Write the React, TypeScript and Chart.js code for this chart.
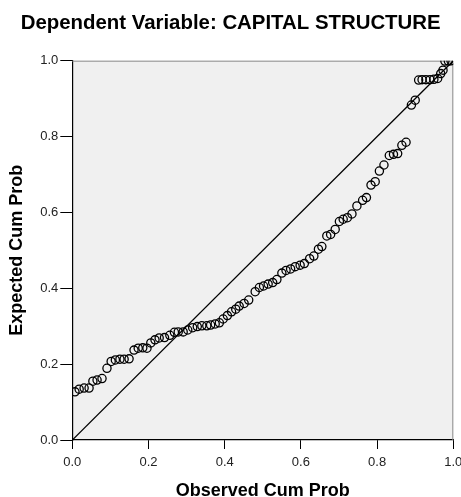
import React, { useEffect, useRef } from "react";
import { Chart, registerables } from "chart.js";

Chart.register(...registerables);

const titleText = "Dependent Variable: CAPITAL STRUCTURE";
const xAxisTitle = "Observed Cum Prob";
const yAxisTitle = "Expected Cum Prob";

const observedCumProb = [
  0.007, 0.018, 0.031, 0.044, 0.054, 0.065, 0.078, 0.091, 0.102, 0.113,
  0.125, 0.136, 0.149, 0.162, 0.173, 0.185, 0.196, 0.206, 0.217, 0.228,
  0.242, 0.256, 0.268, 0.278, 0.291, 0.303, 0.316, 0.328, 0.34, 0.353,
  0.363, 0.375, 0.386, 0.396, 0.407, 0.418, 0.429, 0.438, 0.451, 0.463,
  0.48, 0.491, 0.502, 0.514, 0.526, 0.537, 0.55, 0.561, 0.573, 0.585,
  0.598, 0.609, 0.623, 0.634, 0.646, 0.655, 0.668, 0.678, 0.69, 0.701,
  0.711, 0.722, 0.734, 0.747, 0.762, 0.772, 0.784, 0.795, 0.806, 0.818,
  0.832, 0.843, 0.854, 0.865, 0.876, 0.89, 0.9, 0.909, 0.918, 0.928,
  0.939, 0.949, 0.959, 0.967, 0.973, 0.978, 0.987, 0.994,
];

const expectedCumProb = [
  0.127, 0.134, 0.137, 0.137, 0.155, 0.158, 0.162, 0.189, 0.207, 0.211,
  0.213, 0.213, 0.214, 0.237, 0.242, 0.243, 0.242, 0.256, 0.264, 0.269,
  0.27, 0.276, 0.284, 0.285, 0.285, 0.29, 0.296, 0.299, 0.301, 0.301,
  0.303, 0.306, 0.309, 0.319, 0.328, 0.338, 0.345, 0.353, 0.36, 0.369,
  0.391, 0.402, 0.406, 0.411, 0.415, 0.423, 0.44, 0.447, 0.451, 0.457,
  0.461, 0.465, 0.478, 0.485, 0.503, 0.51, 0.538, 0.542, 0.555, 0.576,
  0.582, 0.586, 0.596, 0.617, 0.632, 0.639, 0.672, 0.681, 0.709, 0.725,
  0.75, 0.753, 0.755, 0.777, 0.785, 0.883, 0.896, 0.949, 0.95, 0.95,
  0.95, 0.951, 0.953, 0.966, 0.975, 0.999, 0.999, 0.9995,
];

const refLineX = [0, 1];
const refLineY = [0, 1];

const axisMin = 0;
const axisMax = 1;
const axisStep = 0.2;

const FONT = "'Liberation Sans', Arial, Helvetica, sans-serif";

const plotBg = {
  id: "plotBg",
  beforeDraw(chart: any) {
    const { ctx, chartArea } = chart;
    if (!chartArea) return;
    ctx.save();
    ctx.fillStyle = "#f0f0f0";
    ctx.fillRect(chartArea.left, chartArea.top, chartArea.right - chartArea.left, chartArea.bottom - chartArea.top);
    ctx.restore();
  },
  beforeDatasetsDraw(chart: any) {
    const { ctx, chartArea } = chart;
    ctx.save();
    ctx.strokeStyle = "#8a8a8a";
    ctx.lineWidth = 1;
    ctx.beginPath();
    ctx.moveTo(chartArea.left, chartArea.top + 0.5);
    ctx.lineTo(chartArea.right - 0.5, chartArea.top + 0.5);
    ctx.lineTo(chartArea.right - 0.5, chartArea.bottom);
    ctx.stroke();
    ctx.restore();
  },
};

export default function App() {
  const ref = useRef<HTMLCanvasElement | null>(null);

  useEffect(() => {
    if (!ref.current) return;
    const points = observedCumProb.map((x, i) => ({ x, y: expectedCumProb[i] }));
    const line = refLineX.map((x, i) => ({ x, y: refLineY[i] }));
    const tickCb = (v: any) => Number(v).toFixed(1);
    const chart = new Chart(ref.current, {
      type: "scatter",
      data: {
        datasets: [
          {
            type: "line",
            data: line,
            borderColor: "#000",
            borderWidth: 1.3,
            pointRadius: 0,
            fill: false,
            clip: 0,
          } as any,
          {
            type: "scatter",
            data: points,
            pointStyle: "circle",
            pointRadius: 4.1,
            borderWidth: 1.3,
            borderColor: "#000",
            backgroundColor: "rgba(0,0,0,0)",
            clip: 0,
          } as any,
        ],
      },
      options: {
        animation: false,
        responsive: false,
        devicePixelRatio: 1,
        layout: { padding: { left: 8, right: 16.7, top: 0, bottom: 0 } },
        plugins: {
          legend: { display: false },
          tooltip: { enabled: false },
          title: {
            display: true,
            text: titleText,
            color: "#000",
            font: { family: FONT, size: 20.4, weight: "bold", lineHeight: 1.2 },
            padding: { top: 11.5, bottom: 24.7 },
          },
        },
        scales: {
          x: {
            type: "linear",
            min: axisMin,
            max: axisMax,
            afterFit: (s: any) => {
              s.height = 60;
            },
            ticks: {
              stepSize: axisStep,
              callback: tickCb,
              color: "#222",
              font: { family: FONT, size: 13 },
              padding: 6,
              maxRotation: 0,
            },
            grid: { drawOnChartArea: false, drawTicks: true, tickLength: 9, color: "#000", tickWidth: 1 },
            border: { display: true, color: "#000", width: 1.2 },
            title: {
              display: true,
              text: xAxisTitle,
              color: "#000",
              font: { family: FONT, size: 18, weight: "bold", lineHeight: 1 },
              padding: { top: 0, bottom: 0 },
            },
          },
          y: {
            type: "linear",
            min: axisMin,
            max: axisMax,
            afterFit: (s: any) => {
              s.width = 64.3;
            },
            ticks: {
              stepSize: axisStep,
              callback: tickCb,
              color: "#222",
              font: { family: FONT, size: 13 },
              padding: 2,
            },
            grid: { drawOnChartArea: false, drawTicks: true, tickLength: 12, color: "#000", tickWidth: 1 },
            border: { display: true, color: "#000", width: 1.2 },
            title: {
              display: true,
              text: yAxisTitle,
              color: "#000",
              font: { family: FONT, size: 18, weight: "bold", lineHeight: 1 },
              padding: { top: 0.5, bottom: 0 },
            },
          },
        },
      },
      plugins: [plotBg],
    } as any);
    return () => chart.destroy();
  }, []);

  return (
    <div style={{ position: "fixed", left: 0, top: 0, width: 461, height: 497, overflow: "hidden", background: "#fff" }}>
      <canvas ref={ref} width={470} height={500} style={{ display: "block", width: 470, height: 500 }} />
    </div>
  );
}
